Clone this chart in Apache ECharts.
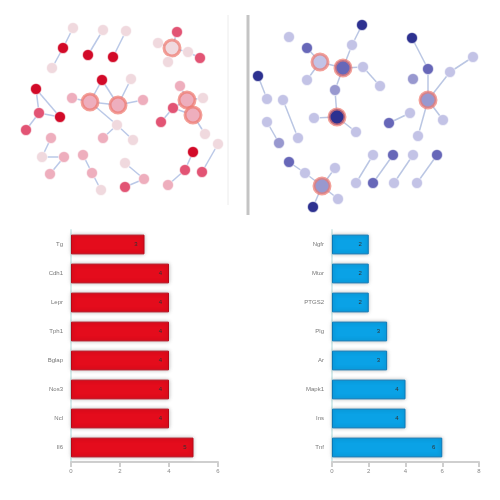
<!DOCTYPE html>
<html><head><meta charset="utf-8">
<script src="https://cdn.jsdelivr.net/npm/echarts@6/dist/echarts.min.js"></script>
<style>html,body{margin:0;padding:0;background:#fff}#c{width:500px;height:500px}</style>
</head><body><div id="c"></div>
<script>
// ---- Bar chart data ----
const leftCats = ["Tg", "Cdh1", "Lepr", "Tph1", "Bglap", "Nos3", "Ncl", "Il6"];
const leftVals = [3, 4, 4, 4, 4, 4, 4, 5];
const leftTicks = {min: 0, max: 6, interval: 2};
const rightCats = ["Ngfr", "Mtor", "PTGS2", "Plg", "Ar", "Mapk1", "Ins", "Tnf"];
const rightVals = [2, 2, 2, 3, 3, 4, 4, 6];
const rightTicks = {min: 0, max: 8, interval: 2};

// ---- Network data (positions in the drawing plane) ----
const leftNodeX = [73,63,52,103,88,126,113,177,158,172,188,200,168,102,131,72,90,118,143,117,103,133,36,39,60,26,180,187,203,173,193,161,205,51,42,64,50,83,92,101,125,144,125,193,185,168,218,202];
const leftNodeY = [28,48,68,30,55,31,57,32,43,48,52,58,62,80,79,98,102,105,100,125,138,140,89,113,117,130,86,100,98,108,115,122,134,138,157,157,174,155,173,190,163,179,187,152,170,185,144,172];
const leftLevel = [0,3,0,0,3,0,3,2,0,0,0,2,0,3,0,1,1,1,1,0,1,0,3,2,3,2,1,1,0,2,1,2,0,1,0,1,1,1,1,0,0,1,2,3,2,1,0,2];
const leftHub = [9,16,17,27,30];
const leftLinks = [[0,1],[1,2],[3,4],[5,6],[9,7],[9,8],[9,10],[9,12],[10,11],[13,16],[13,17],[16,17],[15,16],[17,14],[17,18],[16,19],[19,20],[19,21],[22,23],[22,24],[23,24],[23,25],[26,27],[27,28],[27,29],[27,30],[29,31],[30,32],[29,30],[33,34],[34,35],[35,36],[37,38],[38,39],[40,41],[41,42],[43,44],[44,45],[46,47]];

const rightNodeX = [362,352,343,320,289,307,307,363,380,335,337,314,356,258,267,283,298,267,279,289,305,322,335,338,313,412,428,413,450,473,428,410,389,443,418,373,393,413,437,356,373,394,417];
const rightNodeY = [25,45,68,62,37,48,80,67,86,90,117,118,132,76,99,100,138,122,143,162,173,186,168,199,207,38,69,79,72,57,100,113,123,120,136,155,155,155,155,183,183,183,183];
const rightLevel = [3,0,2,0,0,2,0,0,0,1,3,0,0,3,0,0,0,0,1,2,0,1,0,0,3,3,2,1,0,0,1,0,2,0,0,0,2,0,2,0,2,0,0];
const rightHub = [2,3,10,21,30];
const rightLinks = [[0,1],[1,2],[2,3],[2,7],[7,8],[2,9],[9,10],[10,11],[10,12],[3,5],[3,6],[13,14],[15,16],[17,18],[19,20],[20,21],[21,22],[21,23],[21,24],[25,26],[26,30],[30,28],[28,29],[30,33],[30,34],[31,32],[35,39],[36,40],[37,41],[38,42]];

const redShades = ["#f0d9de", "#eeaebd", "#e25474", "#d20a28"];
const blueShades = ["#c3c3e6", "#9898cf", "#6767b8", "#2d3190"];

function buildNodes(xs, ys, lv, hubs, shades, prefix) {
  return xs.map((x, i) => {
    const hub = hubs.indexOf(i) >= 0;
    return {
      name: prefix + i,
      value: [x, ys[i]],
      symbolSize: hub ? 16 : 11,
      itemStyle: {
        color: shades[lv[i]],
        borderColor: hub ? "rgba(238,120,110,0.7)" : "rgba(255,255,255,0.6)",
        borderWidth: hub ? 3 : 1
      }
    };
  });
}
function buildLinks(arr) { return arr.map(p => ({source: p[0], target: p[1]})); }

const chart = echarts.init(document.getElementById('c'));
const barBase = (color, border) => ({
  type: 'bar', barWidth: '68%',
  itemStyle: {color: color, borderColor: border, borderWidth: 1, shadowBlur: 4, shadowColor: 'rgba(0,0,0,0.25)'},
  label: {show: true, position: 'insideRight', fontSize: 6, color: '#333', offset: [-2, 0]},
  silent: true
});
const catAxis = (cats, gi) => ({
  type: 'category', gridIndex: gi, data: cats, inverse: true,
  axisLine: {show: true, lineStyle: {color: '#d6ecec', width: 2}},
  axisTick: {show: false},
  axisLabel: {fontSize: 6, color: '#777', margin: 8}
});
const valAxis = (t, gi) => ({
  type: 'value', gridIndex: gi, min: t.min, max: t.max, interval: t.interval,
  splitLine: {show: false},
  axisLine: {show: true, lineStyle: {color: '#cfcfcf', width: 2}},
  axisTick: {show: true, length: 5, lineStyle: {color: '#cfcfcf', width: 2}},
  axisLabel: {fontSize: 6, color: '#888', margin: 6}
});

chart.setOption({
  animation: false,
  grid: [
    {left: 0, top: 0, width: 500, height: 500},
    {left: 71, top: 230, width: 147, height: 232},
    {left: 332, top: 230, width: 147, height: 232}
  ],
  xAxis: [
    {type: 'value', gridIndex: 0, min: 0, max: 500, show: false},
    valAxis(leftTicks, 1),
    valAxis(rightTicks, 2)
  ],
  yAxis: [
    {type: 'value', gridIndex: 0, min: 0, max: 500, inverse: true, show: false},
    catAxis(leftCats, 1),
    catAxis(rightCats, 2)
  ],
  graphic: [
    {type: 'line', shape: {x1: 228, y1: 15, x2: 228, y2: 205}, style: {stroke: '#ececec', lineWidth: 1}},
    {type: 'line', shape: {x1: 248, y1: 15, x2: 248, y2: 215}, style: {stroke: '#c4c4c4', lineWidth: 3}}
  ],
  series: [
    {
      type: 'graph', coordinateSystem: 'cartesian2d', xAxisIndex: 0, yAxisIndex: 0,
      symbol: 'circle', silent: true,
      data: buildNodes(leftNodeX, leftNodeY, leftLevel, leftHub, redShades, 'L'),
      links: buildLinks(leftLinks),
      lineStyle: {color: '#b3c2e4', width: 1.5, opacity: 0.9}
    },
    {
      type: 'graph', coordinateSystem: 'cartesian2d', xAxisIndex: 0, yAxisIndex: 0,
      symbol: 'circle', silent: true,
      data: buildNodes(rightNodeX, rightNodeY, rightLevel, rightHub, blueShades, 'R'),
      links: buildLinks(rightLinks),
      lineStyle: {color: '#b3c0e0', width: 1.5, opacity: 0.9}
    },
    Object.assign(barBase('#e40c1c', '#b80818'), {xAxisIndex: 1, yAxisIndex: 1, data: leftVals}),
    Object.assign(barBase('#0aa2e6', '#0a78b8'), {xAxisIndex: 2, yAxisIndex: 2, data: rightVals})
  ]
});
</script></body></html>
